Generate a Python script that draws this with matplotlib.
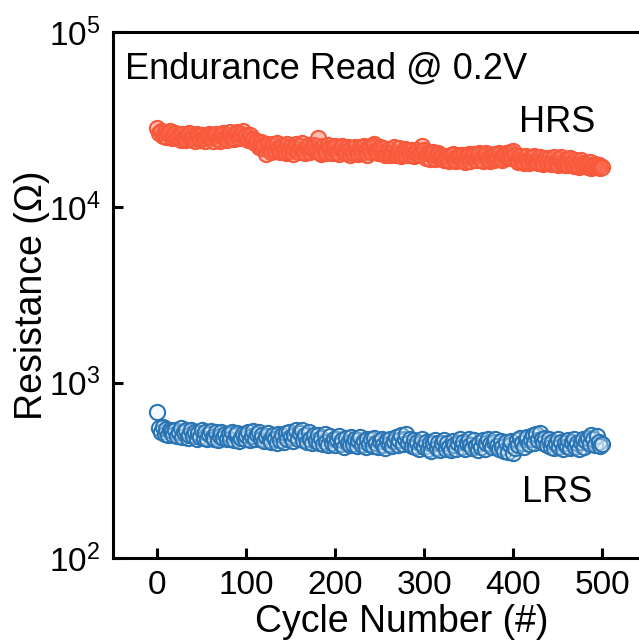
import numpy as np
import matplotlib
matplotlib.use('Agg')
import matplotlib.pyplot as plt

plt.rcParams['font.family'] = ['Liberation Sans', 'DejaVu Sans']
plt.rcParams['mathtext.default'] = 'regular'

## DATOS ##
cycles = np.arange(0, 501, 2)

# HRS en kOhm, ciclos 0..500 cada 2
hrs_k = [
    28.2, 26.5, 27.4, 25.6, 26.9, 25.1, 26.6, 27.2, 24.9, 25.8,
    26.4, 24.7, 25.9, 24.3, 26.2, 25.0, 24.1, 25.7, 26.5, 24.6,
    25.3, 24.0, 26.1, 25.4, 24.2, 26.0, 24.8, 23.8, 25.6, 26.3,
    25.1, 24.0, 25.8, 26.2, 24.5, 23.9, 25.9, 26.4, 24.7, 24.3,
    25.9, 26.8, 25.0, 24.4, 26.3, 27.0, 24.9, 26.1, 27.1, 25.2,
    25.7, 24.2, 25.9, 23.8, 24.4, 23.2, 23.9, 22.1, 23.6, 21.8,
    22.6, 20.1, 23.0, 21.4, 20.6, 22.9, 21.0, 23.3, 21.5, 20.7,
    22.7, 21.0, 20.3, 23.0, 20.9, 22.4, 20.2, 21.9, 23.1, 20.8,
    22.3, 23.2, 20.8, 20.3, 22.0, 22.8, 20.6, 21.8, 22.6, 20.9,
    24.9, 20.7, 20.2, 22.3, 21.0, 20.4, 22.6, 21.8, 20.3, 21.9,
    22.4, 20.6, 20.1, 22.1, 22.5, 20.8, 20.3, 22.0, 20.0, 21.8,
    20.4, 22.2, 20.7, 20.2, 22.0, 20.5, 22.5, 20.9, 20.0, 22.1,
    20.6, 22.3, 22.9, 20.9, 20.3, 22.0, 20.5, 21.9, 19.8, 20.4,
    21.6, 20.0, 20.5, 22.0, 19.9, 20.3, 21.7, 19.7, 20.2, 21.5,
    19.9, 21.3, 19.8, 21.1, 19.5, 20.8, 21.2, 19.8, 21.0, 22.5,
    21.3, 19.2, 20.4, 18.9, 20.2, 20.6, 18.8, 19.9, 20.4, 19.0,
    19.7, 18.7, 19.6, 18.9, 18.4, 19.8, 20.1, 18.6, 18.3, 19.7,
    20.0, 18.5, 19.8, 18.2, 19.5, 20.1, 18.4, 19.7, 20.2, 18.5,
    19.9, 20.3, 18.7, 18.3, 19.8, 20.4, 18.8, 18.4, 20.0, 18.6,
    20.1, 18.8, 20.4, 19.0, 18.5, 19.8, 20.3, 19.1, 20.6, 19.2,
    21.0, 19.9, 18.6, 18.2, 19.7, 18.4, 18.0, 19.5, 18.3, 17.9,
    19.4, 18.1, 19.6, 18.2, 17.8, 19.3, 18.0, 17.6, 19.2, 17.9,
    19.1, 17.7, 18.0, 19.4, 17.8, 17.5, 18.9, 19.3, 17.7, 17.4,
    18.8, 17.5, 19.0, 17.6, 17.2, 18.7, 17.4, 17.0, 18.5, 17.3,
    18.0, 17.5, 16.9, 18.2, 16.8, 17.2, 17.6, 16.9, 17.4, 16.8,
    16.9,
]

# LRS en Ohm
lrs = [
    680, 555, 520, 560, 510, 545, 505, 540, 530, 500,
    540, 495, 525, 550, 490, 520, 535, 485, 505, 540,
    495, 525, 480, 515, 490, 535, 485, 520, 475, 510,
    530, 490, 480, 520, 470, 495, 525, 485, 510, 475,
    510, 480, 520, 470, 500, 515, 465, 485, 510, 475,
    505, 520, 470, 495, 530, 480, 510, 525, 475, 505,
    465, 495, 515, 470, 460, 505, 480, 455, 510, 470,
    500, 460, 515, 480, 525, 490, 465, 505, 535, 480,
    515, 535, 470, 500, 460, 520, 480, 450, 505, 465,
    500, 455, 485, 445, 510, 460, 440, 495, 450, 480,
    440, 475, 495, 445, 470, 432, 485, 450, 440, 490,
    445, 480, 435, 470, 490, 440, 465, 430, 480, 445,
    475, 435, 485, 450, 430, 465, 480, 440, 425, 470,
    445, 480, 435, 465, 490, 440, 470, 500, 445, 475,
    510, 450, 480, 435, 470, 430, 460, 420, 455, 475,
    430, 460, 420, 455, 410, 450, 470, 425, 455, 415,
    450, 470, 420, 455, 430, 415, 465, 440, 420, 455,
    475, 430, 460, 420, 450, 480, 440, 425, 470, 435,
    415, 455, 430, 470, 420, 450, 480, 445, 430, 460,
    475, 435, 420, 465, 430, 410, 460, 400, 440, 465,
    395, 425, 470, 440, 485, 450, 430, 475, 490, 445,
    480, 500, 450, 510, 470, 515, 480, 450, 485, 440,
    475, 430, 460, 425, 455, 475, 430, 460, 420, 455,
    435, 470, 425, 460, 480, 430, 455, 420, 460, 475,
    430, 465, 485, 445, 500, 475, 440, 495, 460, 435,
    445,
]
hrs = np.array(hrs_k) * 1e3
## DATOS ##

fig = plt.figure(figsize=(6.39, 6.44), dpi=100)
# los ejes siguen mas alla del borde derecho (figura recortada)
ax = fig.add_axes([113/639, 86/644, 578/639, 526/644])

ax.scatter(cycles, hrs, s=120, facecolors=(0.98, 0.42, 0.32, 0.45),
           edgecolors='#F7593A', linewidths=1.5, zorder=3)
ax.scatter(cycles, lrs, s=120, facecolors=(0.88, 0.94, 0.98, 0.35),
           edgecolors='#2A74B4', linewidths=1.5, zorder=3)

ax.set_yscale('log')
ax.set_ylim(1e2, 1e5)
ax.set_xlim(-50, 600)
ax.set_xticks([0, 100, 200, 300, 400, 500])
ax.minorticks_off()

for sp in ax.spines.values():
    sp.set_linewidth(2.2)

ax.tick_params(direction='in', length=7, width=2.2, labelsize=24, pad=9)
ax.set_xlabel('Cycle Number (#)', fontsize=27, labelpad=2)
ax.set_ylabel('Resistance (Ω)', fontsize=27, labelpad=-1)

ax.text(0.021, 0.962, 'Endurance Read @ 0.2V', transform=ax.transAxes,
        fontsize=26, va='top', ha='left')
ax.text(0.768, 0.827, 'HRS', transform=ax.transAxes, fontsize=26,
        ha='center', va='center')
ax.text(0.768, 0.125, 'LRS', transform=ax.transAxes, fontsize=26,
        ha='center', va='center')

plt.savefig('out.png', dpi=100)
